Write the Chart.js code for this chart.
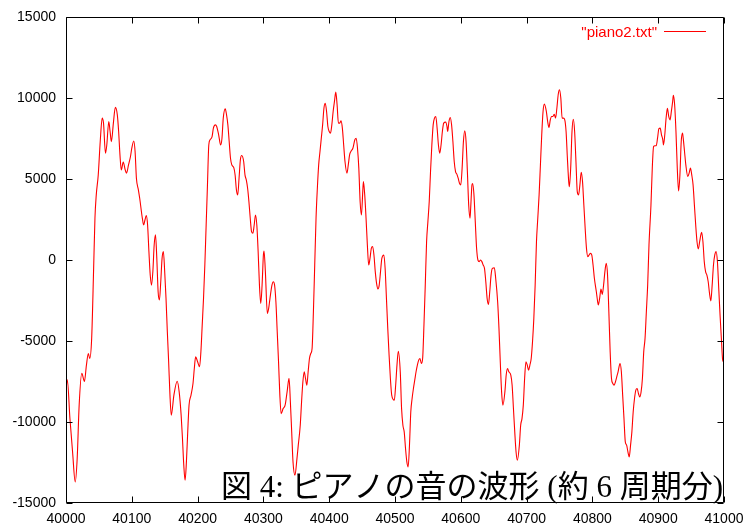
<!DOCTYPE html>
<html>
<head>
<meta charset="utf-8">
<title>piano2.txt</title>
<script src="https://cdn.jsdelivr.net/npm/chart.js@4.4.1/dist/chart.umd.min.js"></script>
<style>
  html, body { margin: 0; padding: 0; background: #ffffff; }
  canvas { display: block; }
</style>
</head>
<body>
<canvas id="wave" width="744" height="525"></canvas>
<script>
// Sample numbers are stored as offsets from the first sample of the excerpt.
const firstSample = 40000;

const sampleOffset = [
  0, 2, 6, 10, 14, 17, 20, 24, 28, 31, 34, 36, 39, 42, 44, 46, 49, 52, 55, 57,
  60, 62, 65, 67, 69, 72, 75, 78, 80, 82, 84, 87, 90, 92, 95, 98, 100, 103, 105, 107,
  110, 112, 116, 118, 120, 122, 124, 126, 128, 130, 132, 134, 136, 138, 140, 142, 144, 146, 148, 150,
  152, 154, 156, 158, 160, 164, 169, 172, 175, 177, 179, 181, 183, 185, 187, 190, 193, 195, 197, 200,
  203, 205, 207, 209, 211, 213, 215, 217, 219, 222, 224, 227, 229, 232, 235, 237, 239, 242, 244, 246,
  248, 250, 252, 255, 257, 259, 261, 263, 265, 267, 270, 272, 274, 276, 278, 280, 282, 284, 286, 288,
  290, 292, 294, 296, 298, 300, 301, 303, 306, 308, 310, 313, 315, 317, 319, 321, 323, 325, 327, 330,
  333, 336, 339, 341, 343, 345, 348, 351, 353, 356, 358, 360, 362, 364, 366, 368, 370, 372, 374, 376,
  378, 380, 382, 384, 386, 388, 390, 392, 394, 396, 398, 400, 402, 404, 406, 408, 410, 412, 414, 416,
  418, 420, 422, 424, 427, 429, 431, 433, 436, 439, 441, 443, 445, 447, 449, 451, 452, 454, 456, 458,
  460, 462, 464, 466, 468, 470, 472, 474, 476, 478, 480, 483, 485, 487, 489, 491, 493, 495, 499, 501,
  503, 505, 508, 510, 512, 514, 516, 518, 520, 522, 524, 526, 528, 530, 532, 534, 536, 538, 540, 542,
  544, 546, 548, 550, 552, 554, 556, 558, 560, 562, 564, 566, 568, 570, 572, 574, 577, 579, 580, 582,
  584, 586, 588, 590, 592, 594, 596, 598, 600, 602, 604, 606, 608, 610, 612, 614, 615, 617, 618, 620,
  622, 624, 626, 628, 630, 632, 634, 636, 638, 640, 642, 644, 646, 648, 651, 653, 656, 658, 660, 662,
  664, 667, 669, 671, 673, 676, 678, 680, 682, 684, 686, 689, 691, 693, 695, 697, 699, 701, 703, 705,
  707, 709, 711, 713, 715, 717, 719, 721, 723, 725, 727, 730, 732, 734, 736, 738, 740, 742, 744, 746,
  748, 750, 752, 754, 756, 758, 760, 762, 764, 765, 767, 769, 771, 773, 775, 777, 779, 781, 783, 785,
  787, 789, 791, 793, 795, 797, 799, 801, 803, 806, 808, 809, 811, 813, 815, 817, 819, 821, 823, 825,
  827, 829, 831, 833, 835, 837, 839, 842, 844, 846, 848, 850, 852, 854, 856, 858, 860, 862, 864, 866,
  868, 870, 872, 874, 876, 878, 880, 882, 884, 886, 889, 891, 893, 895, 897, 899, 901, 903, 905, 907,
  908, 910, 912, 914, 916, 918, 920, 922, 923, 925, 927, 929, 931, 933, 935, 937, 938, 940, 942, 945,
  947, 949, 951, 953, 955, 957, 959, 961, 963, 966, 968, 970, 972, 974, 976, 978, 980, 982, 984, 986,
  988, 990, 992, 994, 996, 998, 1000
];

const amplitude = [
  -8030, -7400, -9800, -11850, -13700, -12250, -8960, -7000, -7500, -6500, -5770, -6080, -4840, -520, 2580, 4020, 5250, 7300, 8760, 8450,
  6590, 7100, 8550, 7930, 7310, 8450, 9420, 8960, 7930, 6490, 5560, 6040, 5560, 5360, 5870, 6390, 6900, 7350, 6700, 5050,
  4330, 3810, 2580, 2160, 2470, 2740, 2160, 520, -930, -1550, -720, 930, 1550, 100, -1960, -2470, -1340, 100, 520, -720,
  -2370, -4430, -6280, -8340, -9580, -8340, -7480, -8140, -9580, -11020, -12670, -13600, -12460, -10600, -8960, -8340, -7620, -6700, -5980, -6280,
  -6590, -5670, -4020, -2370, -310, 2160, 4640, 7100, 7420, 7620, 8140, 8340, 8240, 7730, 7100, 7500, 8760, 9330, 8960, 8340,
  7310, 6280, 5870, 5700, 5250, 4330, 4020, 5050, 6180, 6450, 6080, 5250, 4940, 4430, 3600, 2580, 1750, 1650, 2160, 2780,
  2160, 520, -1550, -2680, -1550, 310, 560, -720, -3300, -2990, -2370, -1550, -1340, -1550, -2580, -4430, -6280, -8340, -9480, -9170,
  -8960, -8140, -7310, -8760, -10600, -12460, -13290, -12260, -11430, -10200, -8760, -7520, -6900, -7310, -7730, -6900, -6080, -5770, -5460, -3190,
  -310, 2580, 4430, 5870, 6700, 7520, 8340, 9370, 9680, 9170, 8240, 7930, 7830, 8340, 9170, 9790, 10360, 9580, 8450, 8450,
  8590, 8140, 7100, 6080, 5360, 5870, 6490, 6700, 6900, 7420, 7520, 6900, 5670, 3600, 2780, 4220, 4840, 4020, 2580, 930,
  -310, 100, 720, 830, 310, -720, -1440, -1790, -1550, -720, 100, 310, -520, -2370, -4220, -5870, -7310, -8340, -8650, -7730,
  -6490, -5630, -6900, -9170, -10200, -10610, -11640, -12460, -12770, -11430, -9370, -8550, -7930, -7420, -6900, -6490, -6180, -6080, -6390, -6080,
  -4020, -1550, 1130, 2370, 3600, 5460, 7100, 8340, 8760, 8860, 8140, 7100, 6590, 7100, 7930, 8450, 8510, 8240, 7930, 8550,
  8800, 8340, 7310, 6080, 5460, 5300, 5050, 4740, 4640, 5670, 7310, 7970, 7310, 5460, 3400, 2580, 3190, 4640, 4720, 4020,
  2370, 720, 0, -100, 0, -100, -310, -520, -1340, -2370, -2740, -1960, -930, -520, -480, -1130, -2580, -4220, -6280, -8140,
  -8960, -8140, -7100, -6700, -6900, -7100, -7730, -9170, -10610, -11850, -12360, -11430, -10200, -9790, -8960, -7310, -6280, -6490, -6800, -6490,
  -6080, -5050, -3600, -1550, 1130, 2580, 4020, 5870, 7730, 9170, 9620, 9170, 8550, 8180, 8650, 8860, 8860, 9000, 8760, 9370,
  10200, 10510, 9990, 8760, 8760, 8650, 7930, 6280, 4840, 4530, 5670, 7930, 8690, 7930, 6080, 4220, 4020, 4640, 5420, 4840,
  3400, 1960, 720, 210, 310, 410, 310, -310, -1130, -1960, -2580, -2780, -2370, -1790, -2120, -1550, -720, -210, -930, -3190,
  -5670, -7310, -7620, -7730, -7520, -7210, -6900, -6390, -6900, -8340, -9790, -11230, -11430, -11850, -12150, -11430, -10610, -9370, -8550, -8030,
  -7930, -8240, -8450, -8140, -7310, -5670, -4840, -3190, -1550, 930, 3400, 5670, 7000, 7050, 7050, 7520, 8100, 8140, 7730, 7420,
  7100, 7730, 8760, 9370, 8860, 8650, 9170, 9790, 10160, 9580, 7930, 5670, 4260, 5250, 7310, 7830, 7520, 6700, 5870, 5150,
  5360, 5670, 5250, 4640, 3400, 2160, 1130, 680, 1130, 1710, 1130, -100, -720, -930, -1340, -2060, -2530, -1550, -310, 310,
  520, -100, -1750, -3400, -4840, -6180, -6300
];

const xTickValues = [40000, 40100, 40200, 40300, 40400, 40500, 40600, 40700, 40800, 40900, 41000];
const yTickValues = [-15000, -10000, -5000, 0, 5000, 10000, 15000];

const seriesLabel = '"piano2.txt"';
const figureCaption = '図 4: ピアノの音の波形 (約 6 周期分)';

const points = sampleOffset.map((off, i) => ({ x: firstSample + off, y: amplitude[i] }));

const tickFont = { family: '"Liberation Sans", Arial, sans-serif', size: 14 };

// Frame, inward tick marks on all four sides, key and caption.
const framePlugin = {
  id: 'frame',
  afterDraw(chart) {
    const { ctx, chartArea: a, scales } = chart;
    const L = Math.round(a.left) + 0.5, R = Math.round(a.right) - 0.5;
    const T = Math.round(a.top) + 0.5, B = Math.round(a.bottom) - 0.5;
    const tick = 6;
    ctx.save();
    ctx.strokeStyle = '#000000';
    ctx.lineWidth = 1;
    ctx.beginPath();
    ctx.rect(L, T, R - L, B - T);
    scales.y.ticks.forEach(t => {
      const py = Math.round(scales.y.getPixelForValue(t.value)) + 0.5;
      ctx.moveTo(L, py); ctx.lineTo(L + tick, py);
      ctx.moveTo(R, py); ctx.lineTo(R - tick, py);
    });
    scales.x.ticks.forEach(t => {
      const px = Math.round(scales.x.getPixelForValue(t.value)) + 0.5;
      ctx.moveTo(px, B); ctx.lineTo(px, B - tick);
      ctx.moveTo(px, T); ctx.lineTo(px, T + tick);
    });
    ctx.stroke();

    // key in the top right corner
    ctx.fillStyle = '#ff0000';
    ctx.strokeStyle = '#ff0000';
    ctx.font = '15px "Liberation Sans", Arial, sans-serif';
    ctx.textAlign = 'right';
    ctx.textBaseline = 'middle';
    ctx.fillText(seriesLabel, 657, 33);
    ctx.beginPath();
    ctx.moveTo(664, 31.5); ctx.lineTo(706, 31.5);
    ctx.stroke();

    // figure caption
    ctx.fillStyle = '#000000';
    ctx.font = '31px "Liberation Serif", "Noto Sans CJK JP", serif';
    ctx.textAlign = 'right';
    ctx.textBaseline = 'alphabetic';
    ctx.fillText(figureCaption, 723, 497);
    ctx.restore();
  }
};

new Chart(document.getElementById('wave'), {
  type: 'line',
  data: {
    datasets: [{
      label: seriesLabel,
      data: points,
      borderColor: '#ff0000',
      borderWidth: 1.1,
      pointRadius: 0,
      fill: false,
      cubicInterpolationMode: 'monotone'
    }]
  },
  options: {
    responsive: false,
    animation: false,
    devicePixelRatio: 1,
    layout: { padding: { top: 17, right: 20, bottom: 0, left: 0 } },
    plugins: { legend: { display: false }, tooltip: { enabled: false } },
    scales: {
      x: {
        type: 'linear',
        min: 40000,
        max: 41000,
        afterBuildTicks: s => { s.ticks = xTickValues.map(v => ({ value: v })); },
        afterFit: s => { s.height = 22; s.paddingLeft = 0; s.paddingRight = 0; },
        grid: { display: false, drawTicks: false },
        border: { display: false },
        ticks: {
          font: tickFont, color: '#000000', padding: 8,
          maxRotation: 0, autoSkip: false,
          callback: v => String(v)
        }
      },
      y: {
        type: 'linear',
        min: -15000,
        max: 15000,
        afterBuildTicks: s => { s.ticks = yTickValues.map(v => ({ value: v })); },
        afterFit: s => { s.width = 66; s.paddingTop = 0; s.paddingBottom = 0; },
        grid: { display: false, drawTicks: false },
        border: { display: false },
        ticks: {
          font: tickFont, color: '#000000', padding: 10,
          autoSkip: false,
          callback: v => String(v)
        }
      }
    }
  },
  plugins: [framePlugin]
});
</script>
</body>
</html>
